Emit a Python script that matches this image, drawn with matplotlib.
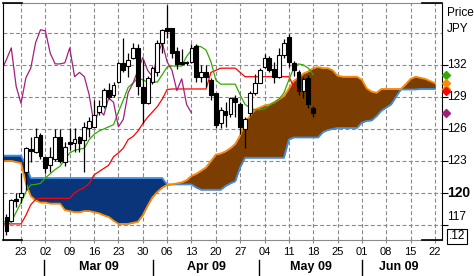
import numpy as np
import matplotlib.pyplot as plt
import matplotlib.transforms as mtransforms

# trading-day index, 0 = Monday 23 Feb 2009 (USD/JPY daily)
candle_days = np.arange(-3, 61)
opens = [117.7, 117.4, 119.4, 119.6, 122.0, 124.1, 123.8, 125.4, 123.4, 122.6,
         123.2, 125.2, 122.9, 124.8, 124.7, 125.2, 125.0, 126.1, 126.2, 127.6,
         128.2, 129.7, 129.2, 130.4, 132.2, 131.9, 132.7, 133.6, 129.9, 128.4,
         130.4, 131.3, 134.1, 135.5, 135.5, 133.3, 132.3, 132.3, 132.3, 133.8,
         130.9, 131.3, 130.6, 129.4, 126.6, 127.7, 127.4, 128.9, 128.3, 126.0,
         127.5, 129.4, 130.3, 131.8, 132.7, 131.6, 130.9, 132.9, 134.6, 132.2,
         131.3, 129.6, 130.8, 128.0]
highs = [118.0, 119.4, 120.0, 121.9, 124.3, 125.2, 126.1, 125.6, 123.4, 124.3,
         126.0, 126.0, 124.8, 126.1, 126.1, 125.3, 126.7, 127.1, 128.7, 128.7,
         129.8, 130.3, 130.4, 132.3, 134.5, 133.1, 134.1, 134.0, 132.5, 131.0,
         131.9, 134.3, 135.4, 137.6, 135.5, 133.7, 133.5, 132.4, 134.0, 134.0,
         132.0, 132.0, 130.8, 129.4, 128.1, 128.5, 129.0, 129.2, 128.5, 127.1,
         129.6, 131.2, 131.7, 133.0, 132.8, 132.3, 133.6, 134.4, 134.9, 132.4,
         131.5, 130.9, 131.1, 128.2]
lows = [116.1, 117.3, 118.7, 119.1, 120.3, 122.9, 123.7, 123.2, 121.9, 122.0,
        123.0, 122.8, 122.5, 124.0, 123.8, 123.8, 122.0, 125.2, 126.1, 127.3,
        128.0, 128.8, 129.0, 130.3, 131.3, 130.9, 132.6, 129.2, 126.6, 128.3,
        130.2, 131.0, 133.1, 134.5, 132.7, 131.6, 132.0, 132.0, 132.2, 130.4,
        130.4, 129.9, 128.7, 126.1, 126.1, 126.2, 127.1, 127.1, 125.5, 124.2,
        127.2, 129.2, 130.3, 131.7, 131.3, 130.3, 130.8, 132.7, 131.8, 131.0,
        129.2, 128.9, 128.0, 127.1]
closes = [116.4, 119.3, 119.2, 120.0, 124.2, 123.9, 125.2, 123.5, 122.3, 123.4,
          125.2, 123.0, 124.3, 124.6, 125.1, 124.7, 126.2, 126.7, 127.3, 128.2,
          129.7, 129.0, 130.1, 132.2, 131.5, 132.5, 133.6, 130.0, 128.4, 130.8,
          131.7, 134.1, 135.3, 135.2, 133.1, 132.1, 132.1, 132.2, 133.6, 130.9,
          131.3, 130.9, 129.2, 126.4, 127.8, 127.3, 128.9, 128.5, 126.2, 126.9,
          129.4, 130.3, 131.5, 132.7, 131.5, 130.9, 132.9, 134.1, 132.3, 131.5,
          129.6, 130.7, 128.3, 127.5]

line_days = np.arange(-4, 61)
tenkan = [117.3, 117.3, 117.3, 118.2, 119.1, 120.1, 120.75, 120.8, 120.9, 121.4,
          121.8, 122.2, 122.5, 123.1, 123.75, 124.0, 124.1, 124.2, 125.0, 125.5,
          125.8, 126.0, 126.2, 126.4, 127.6, 128.7, 129.9, 130.3, 130.8, 130.6,
          130.4, 130.4, 130.4, 131.1, 131.8, 131.9, 131.9, 131.9, 132.8, 133.4,
          133.8, 133.7, 133.4, 132.3, 130.6, 130.2, 130.2, 130.2, 130.2, 129.2,
          128.3, 128.0, 127.8, 127.8, 127.9, 128.2, 128.5, 128.8, 129.4, 130.6,
          131.7, 132.1, 132.0, 131.7, 131.1]
kijun = [117.1, 117.1, 117.1, 117.1, 117.1, 117.9, 118.9, 119.4, 119.5, 119.5,
         119.5, 119.5, 119.5, 119.5, 119.5, 120.0, 120.3, 120.5, 120.9, 121.7,
         122.0, 122.3, 122.6, 123.4, 123.75, 124.2, 125.0, 125.3, 125.8, 126.5,
         127.1, 127.6, 128.1, 128.8, 129.7, 129.75, 129.75, 129.75, 129.75, 129.75,
         129.75, 129.75, 129.75, 131.3, 131.5, 131.7, 131.7, 131.7, 131.7, 131.3,
         130.9, 130.9, 130.9, 130.9, 130.9, 130.9, 130.9, 130.9, 130.9, 130.9,
         130.0, 129.7, 129.6, 129.6, 129.6]

cloud_days = np.arange(-4, 86)
span_a = [123.0, 123.0, 123.0, 122.9, 122.8, 120.9, 119.7, 119.3, 119.1, 119.1,
          119.0, 119.0, 119.0, 118.4, 118.3, 118.2, 118.2, 118.3, 118.3, 118.2,
          118.1, 117.9, 117.75, 117.4, 117.1, 117.1, 117.1, 117.2, 117.3, 117.9,
          118.8, 119.6, 120.1, 120.5, 120.75, 120.8, 120.9, 121.0, 121.2, 121.6,
          121.8, 122.1, 122.4, 123.0, 123.6, 123.7, 123.9, 124.2, 124.6, 125.4,
          126.7, 127.2, 127.8, 128.0, 128.2, 128.3, 128.5, 128.8, 129.1, 129.8,
          130.5, 130.8, 131.2, 131.4, 131.7, 131.8, 131.7, 131.7, 131.5, 131.0,
          130.9, 130.9, 130.9, 130.9, 130.6, 129.8, 129.5, 129.4, 129.75, 129.75,
          129.75, 129.75, 129.75, 130.2, 130.7, 130.9, 130.8, 130.7, 130.5, 130.3]
span_b = ([123.5] * 5 + [122.6] + [121.4] * 28 + [120.8] * 6 + [120.5]
          + [120.3] * 5 + [120.65, 120.9, 121.1, 122.4] + [123.3] * 9 + [125.0]
          + [125.2] * 6 + [125.7, 125.9, 126.0] + [126.1] * 5
          + [126.6, 126.75, 126.8, 127.2, 127.7, 128.0, 128.3, 129.0]
          + [129.7] * 4 + [129.75] * 4)

week_days = np.arange(0, 86, 5)
week_labels = ['23', '02', '09', '16', '23', '30', '06', '13', '20', '27',
               '04', '11', '18', '25', '01', '08', '15', '22']
month_names = ['Mar 09', 'Apr 09', 'May 09', 'Jun 09']
month_edges = [4.75, 27.1, 48.9, 70.0, 85.3]
price_ticks = [117, 120, 123, 126, 129, 132]

fnt = ['Liberation Sans Narrow', 'Liberation Sans', 'DejaVu Sans']
plt.rcParams['font.family'] = fnt

fig = plt.figure(figsize=(4.74, 2.76), dpi=100)
ax = fig.add_axes([3 / 474, 36 / 276, 439 / 474, 237 / 276])
ax.set_xlim(-3.70, 86.45)
ax.set_ylim(115.59, 137.81)

grid_kw = dict(color='#8a8a8a', lw=0.8, dashes=(3.5, 2.2), zorder=0)
for yv in [117, 120, 123, 126, 129, 132, 135]:
    ax.axhline(yv, **grid_kw)
for xv in week_days:
    ax.axvline(xv, **grid_kw)

# cloud
a = np.array(span_a)
b = np.array(span_b)
ax.fill_between(cloud_days, a, b, where=a >= b, interpolate=True,
                color='#7b3d00', lw=0, zorder=1)
ax.fill_between(cloud_days, a, b, where=a < b, interpolate=True,
                color='#0a357a', lw=0, zorder=1)
ax.plot(cloud_days, span_b, color='#3a8ee8', lw=1.3, zorder=1.5)
ax.plot(cloud_days, span_a, color='#ff8a00', lw=1.3, zorder=1.5)

# lines
ax.plot(line_days, kijun, color='#ff0000', lw=0.9, zorder=2)
ax.plot(line_days, tenkan, color='#33aa00', lw=0.9, zorder=2)
chikou = closes[24:]
ax.plot(line_days[:len(chikou)], chikou, color='#a0207e', lw=0.9, zorder=2)

# candles
o = np.array(opens)
c = np.array(closes)
up = c >= o
ax.vlines(candle_days, lows, highs, color='black', lw=0.9, zorder=3)
body_lo = np.minimum(o, c)
body_h = np.maximum(np.abs(c - o), 0.08)
ax.bar(candle_days, body_h, bottom=body_lo, width=0.78,
       color=np.where(up, 'white', 'black'), edgecolor='black', lw=0.8, zorder=4)

# frame
for s in ['top', 'bottom']:
    ax.spines[s].set_color('#8a8a8a')
ax.spines['left'].set_color('black')
ax.spines['right'].set_color('black')
for yy in [0, 1]:
    ax.plot([0, 19 / 439], [yy, yy], color='black', lw=1.2,
            transform=ax.transAxes, clip_on=False, zorder=6)
    ax.plot([419 / 439, 1], [yy, yy], color='black', lw=1.2,
            transform=ax.transAxes, clip_on=False, zorder=6)

# x axis
ax.set_xticks(week_days, week_labels)
ax.tick_params(axis='x', length=2, color='#8a8a8a', pad=3, labelsize=8)
trans_x = mtransforms.blended_transform_factory(ax.transData, ax.transAxes)
for i, name in enumerate(month_names):
    mid = (month_edges[i] + month_edges[i + 1]) / 2
    ax.text(mid, -0.114, name, transform=trans_x, ha='center', va='center',
            fontsize=9, fontweight='bold')
for e in month_edges[:-1]:
    ax.plot([e, e], [-0.084, -0.148], color='black', lw=1.0,
            transform=trans_x, clip_on=False)

# right axis
ax.yaxis.tick_right()
ax.set_yticks(price_ticks, [''] * len(price_ticks))
ax.tick_params(axis='y', length=4, color='black', direction='out')
trans_y = mtransforms.blended_transform_factory(ax.transAxes, ax.transData)
lx = 1.0114
for p in price_ticks:
    if p == 120:
        ax.text(lx, p, str(p), transform=trans_y, ha='left', va='center',
                fontsize=10, fontweight='bold')
    elif p == 117:
        ax.text(lx, 117.75, str(p), transform=trans_y, ha='left',
                va='center', fontsize=8.5)
    else:
        ax.text(lx, p, str(p), transform=trans_y, ha='left', va='center',
                fontsize=8.5)
ax.text(lx + 0.004, 115.95, '.12', transform=trans_y, ha='left', va='center',
        fontsize=8.5, bbox=dict(boxstyle='square,pad=0.12', fc='white',
                                ec='black', lw=0.8))
ax.text(lx, 0.958, 'Price', transform=ax.transAxes, ha='left', va='center',
        fontsize=8.5)
ax.text(lx, 0.890, 'JPY', transform=ax.transAxes, ha='left', va='center',
        fontsize=8.5)

markers = [(tenkan[-1], '#33aa00'), (span_a[-1], '#ff8a00'),
           (span_b[-1], '#ff8a00'), (kijun[-1], '#ff0000'),
           (closes[-1], '#a0207e')]
for val, col in markers:
    ax.plot(1.0080, val, marker='D', ms=4.5, color=col, mec=col,
            transform=trans_y, clip_on=False, zorder=7)

fig.savefig('out.png', dpi=100)
